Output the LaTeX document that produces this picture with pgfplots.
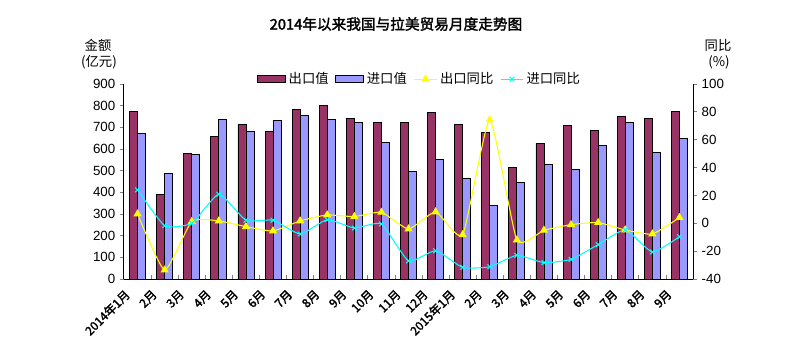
\documentclass[border=0pt]{standalone}
\usepackage{pgfplots}
\usepackage{pgfplotstable}
\pgfplotsset{compat=1.18}
\usepackage{fontspec}
\setmainfont{Liberation Sans}
\newfontfamily\cjk[AutoFakeBold=2]{Noto Sans CJK SC}
\definecolor{expc}{HTML}{993366}
\definecolor{impc}{HTML}{9999FF}
\definecolor{yel}{HTML}{FFFF00}
\definecolor{cya}{HTML}{00FFFF}

\pgfplotstableread{
x exp imp expy impy
0 774 672 6.7 24
1 391 488 -33.6 -1.7
2 580 575 1.2 0
3 658 737 1.7 20.9
4 714 682 -2.4 2.2
5 682 732 -5.5 2.2
6 783 755 1.7 -7.7
7 803 737 6.0 2.6
8 741 723 4.8 -3.4
9 723 632 7.9 -0.5
10 723 498 -4.1 -27
11 769 552 8.2 -19.7
12 714 465 -8.2 -31.7
13 678 340 74.3 -31.2
14 515 446 -12 -23
15 626 529 -5 -28.3
16 709 506 -1 -25.9
17 686 617 0.5 -15.3
18 751 723 -4.8 -4.8
19 741 585 -7.7 -20.6
20 774 649 4.1 -9.6
}\datatable

\begin{document}
\begin{tikzpicture}
\path[use as bounding box] (0,0) rectangle (595.5pt,271.5pt);
\node[font=\cjk\bfseries\fontsize{11}{11}\selectfont] at (297pt,253.5pt) {2014年以来我国与拉美贸易月度走势图};
\node[font=\cjk\fontsize{10}{10}\selectfont] at (73.5pt,237.75pt) {金额};
\node[font=\cjk\fontsize{10}{10}\selectfont] at (74.25pt,225pt) {(亿元)};
\node[font=\cjk\fontsize{10}{10}\selectfont] at (538.5pt,237.75pt) {同比};
\node[font=\cjk\fontsize{10}{10}\selectfont] at (539.25pt,225pt) {(\%)};

\begin{axis}[
  at={(93pt,62.25pt)}, anchor=south west,
  scale only axis, width=426.75pt, height=146.25pt,
  xmin=-0.5, xmax=20.5, ymin=0, ymax=900,
  ytick={0,100,...,900},
  axis y line*=left, axis x line*=bottom,
  axis line style={line width=0.75pt},
  ybar=0pt, bar width=6pt,
  xtick={0,...,20},
  xticklabels={2014年1月,2月,3月,4月,5月,6月,7月,8月,9月,10月,11月,12月,2015年1月,2月,3月,4月,5月,6月,7月,8月,9月},
  xticklabel style={font=\cjk\bfseries\fontsize{9}{9}\selectfont, xshift=-5pt, yshift=-4.5pt, rotate=45, anchor=east},
  major x tick style={draw=none},
  minor xtick={0.5,1.5,...,19.5},
  minor x tick style={line width=0.6pt},
  minor tick length=3pt,
  x tick style={/pgfplots/tick align=inside},
  y tick style={line width=0.6pt},
  major tick length=3pt,
  tick align=outside,
  yticklabel style={font=\fontsize{10}{10}\selectfont},
  /pgf/number format/assume math mode=true,
]
\addplot[fill=expc, draw=black, line width=0.6pt] table[x=x,y=exp]{\datatable};
\addplot[fill=impc, draw=black, line width=0.6pt] table[x=x,y=imp]{\datatable};
\end{axis}

\begin{axis}[
  at={(93pt,62.25pt)}, anchor=south west,
  scale only axis, width=426.75pt, height=146.25pt,
  xmin=-0.5, xmax=20.5, ymin=-40, ymax=100,
  ytick={-40,-20,...,100},
  axis y line*=right, axis x line=none,
  axis line style={line width=0.75pt},
  y tick style={line width=0.6pt},
  major tick length=3pt,
  tick align=outside,
  yticklabel style={font=\fontsize{10}{10}\selectfont},
  /pgf/number format/assume math mode=true,
  legend style={at={(0.52,1.025)}, anchor=center, draw=none, fill=none,
    font=\cjk\fontsize{10}{10}\selectfont, inner sep=1pt,
    /tikz/every even column/.append style={column sep=3pt}},
  legend columns=4,
]
\addlegendimage{legend image code/.code={\draw[fill=expc,draw=black,line width=0.6pt] (0pt,-2.6pt) rectangle (21pt,2.6pt);}}
\addlegendentry{出口值}
\addlegendimage{legend image code/.code={\draw[fill=impc,draw=black,line width=0.6pt] (0pt,-2.6pt) rectangle (21pt,2.6pt);}}
\addlegendentry{进口值}
\addplot[yel, line width=0.8pt, mark=triangle*, mark size=2.8pt, mark options={fill=yel,draw=yel}, smooth, tension=0.3] table[x=x,y=expy]{\datatable};
\addlegendentry{出口同比}
\addplot[cya, line width=0.8pt, mark=x, mark size=2.5pt, mark options={draw=cya}, smooth, tension=0.3] table[x=x,y=impy]{\datatable};
\addlegendentry{进口同比}
\end{axis}
\end{tikzpicture}
\end{document}
